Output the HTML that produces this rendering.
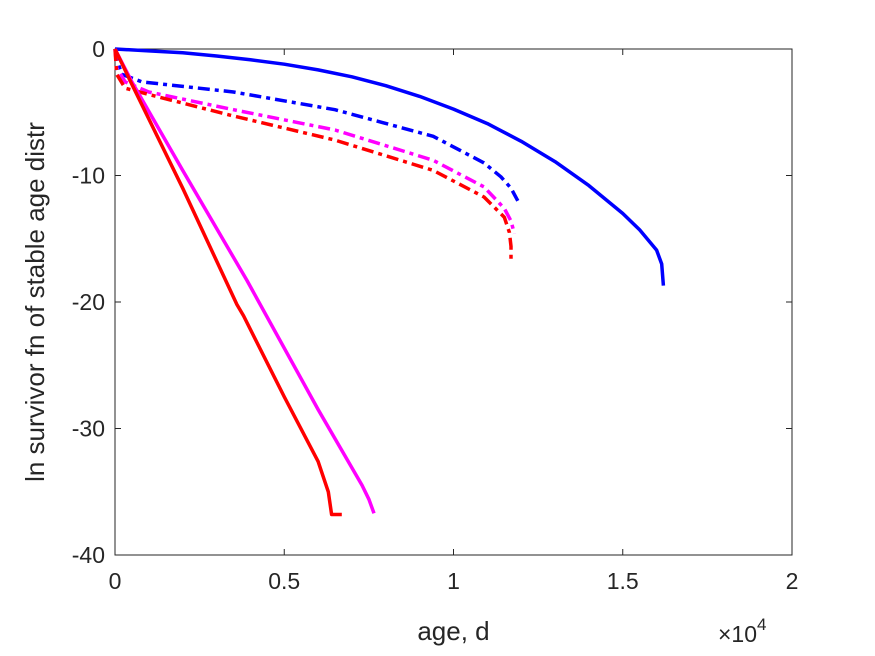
<!DOCTYPE html>
<html><head><meta charset="utf-8"><style>
body{margin:0;background:#fff;}
svg{display:block;font-family:"Liberation Sans",sans-serif;}
</style></head><body>
<svg id="chart" width="875" height="656" viewBox="0 0 875 656"></svg>
<script>
const xTicks=[0,0.5,1,1.5,2];
const xTickLabels=["0","0.5","1","1.5","2"];
const yTicks=[0,-10,-20,-30,-40];
const yTickLabels=["0","-10","-20","-30","-40"];
const blueSolidX=[0,0.1,0.2,0.3,0.4,0.5,0.6,0.7,0.8,0.9,1.0,1.1,1.2,1.3,1.4,1.5,1.55,1.6,1.615,1.62];
const blueSolidY=[0,-0.15,-0.3,-0.55,-0.85,-1.2,-1.65,-2.2,-2.9,-3.75,-4.75,-5.9,-7.3,-8.9,-10.8,-13.0,-14.3,-15.9,-17,-18.7];
const blueDashX=[0,0.01,0.02,0.08,0.35,0.65,0.94,1.09,1.14,1.17,1.19];
const blueDashY=[0,-1.2,-2.0,-2.6,-3.4,-4.8,-6.9,-9.0,-10.1,-11.0,-12.0];
const magDashX=[0,0.005,0.03,0.1,0.35,0.65,0.94,1.09,1.15,1.17,1.18];
const magDashY=[0,-1.5,-2.6,-3.4,-4.8,-6.4,-8.8,-10.9,-12.6,-13.6,-14.6];
const redDashX=[0,0.005,0.03,0.1,0.35,0.65,0.94,1.09,1.15,1.165,1.17,1.17];
const redDashY=[0,-2.0,-3.1,-3.6,-5.3,-7.2,-9.6,-11.7,-13.3,-14.5,-15.6,-16.7];
const redSolidX=[0,0.05,0.2,0.36,0.38,0.5,0.6,0.63,0.64,0.67];
const redSolidY=[0,-2.8,-11,-20.2,-21.1,-27.5,-32.6,-35,-36.8,-36.8];
const magSolidX=[0,0.05,0.2,0.39,0.6,0.73,0.75,0.765];
const magSolidY=[0,-2.6,-9.6,-18.3,-28.5,-34.5,-35.6,-36.7];

const L=115,R=792,T=49,B=555;
const sx=v=>L+(v-0)/(2-0)*(R-L);
const sy=v=>T+(0-v)/(0+40)*(B-T);
const svg=document.getElementById('chart');
const NS='http://www.w3.org/2000/svg';
function mk(t,a){const e=document.createElementNS(NS,t);for(const k in a)e.setAttribute(k,a[k]);svg.appendChild(e);return e;}
const frame=mk('rect',{x:L,y:T,width:R-L,height:B-T,fill:'#fff',stroke:'#262626','stroke-width':1});


xTicks.forEach((v,i)=>{
  const x=sx(v);
  const t1=mk('line',{x1:x,y1:B,x2:x,y2:B-6,stroke:'#262626'});
  
  
  const t2=mk('line',{x1:x,y1:T,x2:x,y2:T+6,stroke:'#262626'});
  
  
  const tx=mk('text',{x:x,y:B+34,'text-anchor':'middle','font-size':23,fill:'#262626'});
  tx.textContent=xTickLabels[i];
  
  
});
yTicks.forEach((v,i)=>{
  const y=sy(v);
  const t1=mk('line',{x1:L,y1:y,x2:L+6,y2:y,stroke:'#262626'});
  
  
  const t2=mk('line',{x1:R,y1:y,x2:R-6,y2:y,stroke:'#262626'});
  
  
  const tx=mk('text',{x:L-10,y:y+8,'text-anchor':'end','font-size':23,fill:'#262626'});
  tx.textContent=yTickLabels[i];
  
  
});
function series(xs,ys,color,dash,name){
  const d=xs.map((x,i)=>(i?'L':'M')+sx(x).toFixed(1)+','+sy(ys[i]).toFixed(1)).join(' ');
  const a={d:d,fill:'none',stroke:color,'stroke-width':3.5,'stroke-linejoin':'round'};
  if(dash)a['stroke-dasharray']=dash;
  const p=mk('path',a);
  
  
}
series(blueSolidX,blueSolidY,'#0000ff',null,'blue-solid-line');
series(blueDashX,blueDashY,'#0000ff','12,5,4,5','blue-dashdot-line');
series(magDashX,magDashY,'#ff00ff','12,5,4,5','magenta-dashdot-line');
series(redDashX,redDashY,'#ff0000','12,5,4,5','red-dashdot-line');
series(magSolidX,magSolidY,'#ff00ff',null,'magenta-solid-line');
series(redSolidX,redSolidY,'#ff0000',null,'red-solid-line');
const xl=mk('text',{x:(L+R)/2,y:640,'text-anchor':'middle','font-size':26,fill:'#262626'});
xl.textContent='age, d';


const yl=mk('text',{x:0,y:0,'text-anchor':'middle','font-size':26,fill:'#262626',transform:'translate(44,'+((T+B)/2)+') rotate(-90)'});
yl.textContent='ln survivor fn of stable age distr';


const ex=mk('text',{x:718,y:642,'font-size':23,fill:'#262626'});
ex.innerHTML='×10<tspan dy="-12" font-size="17">4</tspan>';


</script>
</body></html>
